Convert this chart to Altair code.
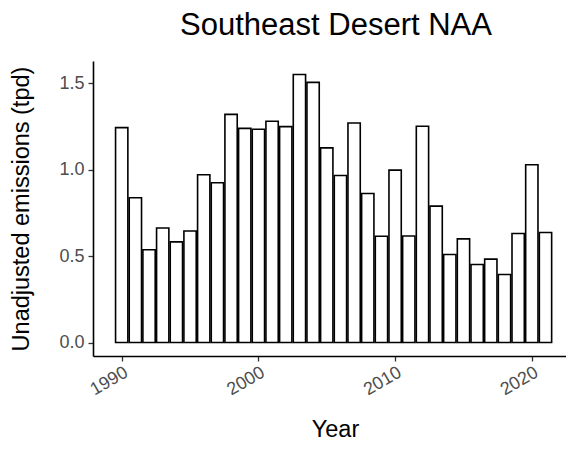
import altair as alt
import pandas as pd

years = list(range(1990, 2022))
emissions = [1.244, 0.838, 0.537, 0.663, 0.583, 0.646, 0.971, 0.925, 1.321, 1.240,
             1.235, 1.281, 1.250, 1.552, 1.506, 1.127, 0.967, 1.271, 0.863, 0.615,
             0.998, 0.617, 1.252, 0.790, 0.510, 0.600, 0.452, 0.483, 0.394, 0.631,
             1.029, 0.637]
x_ticks = [1990, 2000, 2010, 2020]
y_ticks = [0.0, 0.5, 1.0, 1.5]
title_text = ["Southeast Desert NAA"]

df = pd.DataFrame({"Year": years, "Emissions": emissions})
df["x0"] = df["Year"] - 0.45
df["x1"] = df["Year"] + 0.45
df["base"] = 0.0
title_df = pd.DataFrame({"title": title_text})

FONT = "Liberation Sans"
W, H = 473, 295

bars = (
    alt.Chart(df)
    .mark_rect(fill="white", stroke="black", strokeWidth=1.6)
    .encode(
        x=alt.X(
            "x0:Q",
            scale=alt.Scale(domain=[1987.9, 2022.5], nice=False, zero=False),
            axis=alt.Axis(
                title="Year",
                values=x_ticks,
                format="d",
                labelAngle=-30,
                labelAlign="right",
                labelBaseline="top",
                labelPadding=2,
                titleY=80,
                titleBaseline="alphabetic",
                titleX=242,
            ),
        ),
        x2="x1",
        y=alt.Y(
            "Emissions:Q",
            scale=alt.Scale(domain=[-0.078, 1.63], nice=False, zero=False),
            axis=alt.Axis(
                title="Unadjusted emissions (tpd)",
                values=y_ticks,
                format=".1f",
                titleX=-60,
                titleBaseline="bottom",
            ),
        ),
        y2="base",
    )
)

title = (
    alt.Chart(title_df)
    .mark_text(font=FONT, fontSize=31, color="black", align="center", baseline="alphabetic")
    .encode(text="title:N", x=alt.value(243), y=alt.value(-26))
)

chart = (
    alt.layer(bars, title)
    .properties(
        width=W,
        height=H,
        autosize=alt.AutoSizeParams(type="none"),
        padding={"left": 85, "top": 53, "right": 0, "bottom": 84},
    )
    .configure_view(stroke=None, clip=False)
    .configure_axis(
        grid=False,
        domainColor="black",
        domainWidth=1.6,
        tickColor="#333333",
        tickWidth=1.3,
        tickSize=5,
        labelFont=FONT,
        labelFontSize=18,
        labelColor="#4D4D4D",
        labelPadding=4,
        titleFont=FONT,
        titleFontSize=23.5,
        titleFontWeight="normal",
        titleColor="black",
    )
)

chart.save("out.html", embed_options={"renderer": "svg", "actions": False})
